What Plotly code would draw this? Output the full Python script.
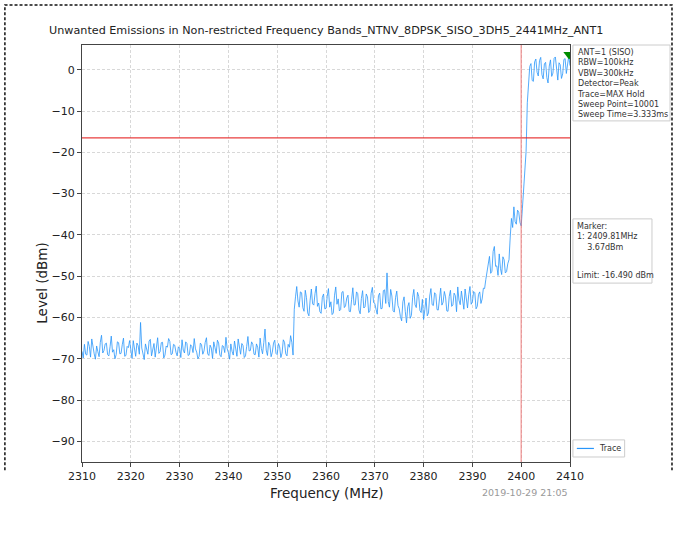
import numpy as np
import plotly.graph_objects as go

# ---------------- data ----------------
FREQ_START = 2310.0
FREQ_STOP = 2410.0
# Max-hold trace level (dBm), read every 0.25 MHz from 2310 to 2410 MHz (20 values per 5 MHz)
level_rows = [
    [-68.2, -69.8, -66.5, -68.9, -69.1, -65.8, -67.0, -69.6, -65.2, -67.7,
     -68.8, -70.1, -66.9, -68.3, -69.5, -66.0, -64.3, -68.6, -68.0, -66.4],
    [-66.2, -69.0, -69.3, -67.1, -64.5, -68.4, -67.8, -70.0, -69.0, -65.9,
     -66.1, -68.8, -68.7, -66.6, -65.0, -69.4, -69.2, -67.0, -67.3, -65.6],
    [-68.6, -69.9, -65.6, -67.5, -69.4, -66.2, -66.8, -68.9, -61.2, -67.4,
     -69.0, -70.2, -66.4, -68.1, -68.9, -65.7, -65.3, -69.3, -67.9, -66.3],
    [-69.6, -67.0, -64.9, -68.7, -68.3, -66.1, -66.0, -69.8, -69.1, -66.9,
     -67.2, -65.1, -65.8, -69.0, -68.8, -66.5, -66.7, -68.4, -69.3, -67.1],
    [-67.5, -69.7, -65.4, -67.9, -68.6, -65.9, -66.3, -69.2, -69.0, -66.6,
     -67.0, -68.5, -65.1, -67.6, -68.4, -70.0, -69.4, -66.2, -66.6, -68.9],
    [-68.1, -66.0, -64.9, -68.8, -69.2, -66.7, -67.4, -69.9, -65.9, -67.3,
     -68.7, -65.5, -66.2, -69.1, -69.5, -66.8, -67.0, -68.5, -64.8, -67.6],
    [-68.5, -70.1, -66.4, -68.2, -69.1, -65.7, -67.6, -69.4, -65.2, -67.8,
     -68.9, -66.3, -66.8, -69.7, -69.3, -67.0, -64.6, -68.1, -68.0, -65.9],
    [-66.5, -68.9, -69.0, -66.4, -67.2, -69.6, -65.0, -67.5, -68.8, -66.1,
     -62.8, -67.9, -69.2, -66.0, -66.7, -69.5, -68.4, -66.2, -65.5, -68.7],
    [-69.0, -66.3, -67.1, -69.7, -68.6, -65.4, -66.0, -68.8, -69.3, -66.5,
     -67.2, -64.4, -66.0, -69.1, -58.0, -55.0, -52.5, -56.0, -57.5, -53.8],
    [-54.0, -57.6, -58.5, -53.4, -55.2, -58.9, -59.6, -55.8, -53.1, -56.7,
     -57.0, -54.2, -52.4, -57.3, -56.5, -58.6, -59.0, -55.1, -54.3, -57.9],
    [-57.8, -54.9, -53.0, -57.5, -56.2, -59.3, -58.9, -54.6, -52.6, -56.8,
     -55.5, -58.4, -58.1, -53.9, -53.7, -57.6, -57.2, -55.3, -54.6, -58.5],
    [-58.6, -55.6, -52.8, -57.0, -56.9, -53.8, -54.2, -58.2, -59.1, -55.4,
     -53.5, -57.7, -57.4, -54.3, -55.0, -58.8, -58.3, -54.1, -52.7, -56.4],
    [-56.6, -58.0, -59.2, -54.7, -54.1, -57.9, -57.8, -53.5, -53.3, -56.6,
     -49.2, -56.1, -57.5, -53.2, -54.8, -58.4, -58.7, -55.2, -53.6, -57.1],
    [-57.9, -59.8, -60.8, -56.2, -55.0, -58.6, -61.3, -57.4, -56.4, -60.2,
     -59.5, -55.1, -53.2, -56.9, -57.6, -53.9, -54.9, -58.3, -58.8, -55.6],
    [-60.5, -58.1, -55.3, -59.6, -58.9, -54.8, -53.0, -56.9, -57.1, -54.0,
     -54.4, -58.1, -58.2, -55.5, -52.9, -57.0, -56.3, -53.7, -55.0, -58.4],
    [-58.5, -54.9, -53.4, -57.3, -57.0, -54.1, -54.7, -58.6, -52.6, -55.8,
     -56.9, -53.6, -55.8, -58.0, -53.1, -56.2, -57.7, -54.5, -52.5, -56.8],
    [-56.2, -53.7, -54.0, -57.9, -57.3, -54.4, -53.8, -56.6, -55.5, -52.9,
     -53.0, -50.8, -49.0, -46.4, -45.2, -49.3, -48.8, -44.0, -42.8, -47.6],
    [-47.5, -49.8, -44.6, -48.1, -49.6, -45.3, -46.0, -49.2, -48.9, -47.0,
     -46.0, -40.5, -36.0, -38.2, -33.2, -36.8, -37.4, -34.0, -34.5, -37.0],
    [-37.8, -33.5, -29.5, -26.0, -19.8, -8.0, -2.0, 0.8, 1.5, -2.6,
     -2.8, 1.9, 2.6, -0.6, -1.5, 2.2, 3.0, -1.2, -2.2, 1.4],
    [1.8, -1.9, -3.2, 0.9, 2.4, -1.6, -0.8, 2.8, 3.1, -0.4,
     -2.5, 1.7, 1.2, -2.1, -1.0, 2.5, 2.7, -0.9, 2.0, 3.4],
    [1.0],
]
level = [v for row in level_rows for v in row]
freq = np.linspace(FREQ_START, FREQ_STOP, len(level))

LIMIT_DBM = -16.49
BAND_EDGE_MHZ = 2400.0
MARKER_FREQ = 2409.81
MARKER_LEVEL = 3.67

x_ticks = [2310, 2320, 2330, 2340, 2350, 2360, 2370, 2380, 2390, 2400, 2410]
y_ticks = [0, -10, -20, -30, -40, -50, -60, -70, -80, -90]

TITLE = "Unwanted Emissions in Non-restricted Frequency Bands_NTNV_8DPSK_SISO_3DH5_2441MHz_ANT1"
INFO_LINES = ["ANT=1 (SISO)", "RBW=100kHz", "VBW=300kHz", "Detector=Peak",
              "Trace=MAX Hold", "Sweep Point=10001", "Sweep Time=3.333ms"]
DATE_TEXT = "2019-10-29 21:05"
LEGEND_LABEL = "Trace"

FONT = "DejaVu Sans"
TRACE_COLOR = "rgb(40,150,250)"

fig = go.Figure()

fig.add_trace(go.Scatter(
    x=freq, y=level, mode="lines", name=LEGEND_LABEL,
    line=dict(color=TRACE_COLOR, width=0.8), showlegend=False,
))
fig.add_trace(go.Scatter(
    x=[FREQ_START, FREQ_STOP], y=[LIMIT_DBM, LIMIT_DBM], mode="lines",
    line=dict(color="rgba(230,40,40,0.9)", width=1.2), showlegend=False, hoverinfo="skip",
))
fig.add_trace(go.Scatter(
    x=[BAND_EDGE_MHZ, BAND_EDGE_MHZ], y=[-95, 6], mode="lines",
    line=dict(color="rgba(240,110,110,0.6)", width=1.5), showlegend=False, hoverinfo="skip",
))
fig.add_trace(go.Scatter(
    x=[MARKER_FREQ], y=[MARKER_LEVEL], mode="markers",
    marker=dict(symbol="triangle-down", size=10, color="rgb(0,140,0)"),
    showlegend=False, hoverinfo="skip", cliponaxis=True,
))

axis_common = dict(
    showline=True, mirror=True, linecolor="#444", linewidth=1.2,
    ticks="outside", ticklen=4, tickcolor="#444",
    showgrid=True, gridcolor="#d8d8d8", gridwidth=0.8, griddash="3px,2px",
    zeroline=False, tickfont=dict(family=FONT, size=11, color="#222"),
)

fig.update_layout(
    width=675, height=538,
    margin=dict(l=82, r=105, t=45, b=76),
    paper_bgcolor="white", plot_bgcolor="white",
    font=dict(family=FONT, color="#222"),
    xaxis=dict(range=[FREQ_START, FREQ_STOP], tickvals=x_ticks, **axis_common),
    yaxis=dict(range=[-95, 6], tickvals=y_ticks,
               ticktext=[("\u2212" + str(-t)) if t < 0 else str(t) for t in y_ticks],
               **axis_common),
    showlegend=False,
)

# Title
fig.add_annotation(text=TITLE, xref="paper", yref="paper", x=0.5, y=1.0,
                   xanchor="center", yanchor="bottom", yshift=6, showarrow=False,
                   font=dict(family=FONT, size=11.2, color="#222"))
# Axis titles
fig.add_annotation(text="Frequency (MHz)", xref="paper", yref="paper", x=0.5, y=-0.074,
                   xanchor="center", yanchor="middle", showarrow=False,
                   font=dict(family=FONT, size=13.5, color="#222"))
fig.add_annotation(text="Level (dBm)", xref="paper", yref="paper", x=-0.082, y=0.43,
                   xanchor="center", yanchor="middle", textangle=-90, showarrow=False,
                   font=dict(family=FONT, size=13.5, color="#222"))
fig.add_annotation(text=DATE_TEXT, xref="paper", yref="paper", x=1.0, y=-0.074,
                   xanchor="right", yanchor="middle", showarrow=False,
                   font=dict(family=FONT, size=9.5, color="#999"))

# Info box
fig.add_shape(type="rect", xref="paper", yref="paper", x0=1.006, x1=1.205, y0=0.818, y1=1.0,
              line=dict(color="#cccccc", width=1), fillcolor="white", layer="above")
fig.add_annotation(text="<br>".join(INFO_LINES), xref="paper", yref="paper", x=1.010, y=0.998,
                   xanchor="left", yanchor="top", align="left", showarrow=False,
                   font=dict(family=FONT, size=8, color="#333"))

# Marker box
fig.add_shape(type="rect", xref="paper", yref="paper", x0=1.006, x1=1.168, y0=0.429, y1=0.583,
              line=dict(color="#cccccc", width=1), fillcolor="white", layer="above")
fig.add_annotation(text=f"Marker:<br>1: {MARKER_FREQ:.2f}MHz<br>    {MARKER_LEVEL:.2f}dBm",
                   xref="paper", yref="paper", x=1.010, y=0.581,
                   xanchor="left", yanchor="top", align="left", showarrow=False,
                   font=dict(family=FONT, size=8, color="#333"))
fig.add_annotation(text=f"Limit: {LIMIT_DBM:.3f} dBm",
                   xref="paper", yref="paper", x=1.010, y=0.448,
                   xanchor="left", yanchor="middle", align="left", showarrow=False,
                   font=dict(family=FONT, size=8, color="#333"))

# Legend box (compact, like the reference)
fig.add_shape(type="rect", xref="paper", yref="paper", x0=1.006, x1=1.112, y0=0.012, y1=0.053,
              line=dict(color="#cccccc", width=1), fillcolor="white", layer="above")
fig.add_shape(type="line", xref="paper", yref="paper", x0=1.014, x1=1.049, y0=0.0325, y1=0.0325,
              line=dict(color=TRACE_COLOR, width=1.2), layer="above")
fig.add_annotation(text=LEGEND_LABEL, xref="paper", yref="paper", x=1.056, y=0.0325,
                   xanchor="left", yanchor="middle", showarrow=False,
                   font=dict(family=FONT, size=8, color="#333"))

# Dashed outer border (top, left, right)
fig.add_shape(type="path", xref="paper", yref="paper",
              path="M -0.158,-0.02 L -0.158,1.096 L 1.209,1.096 L 1.209,-0.02",
              line=dict(color="#111", width=1.5, dash="3px,2px"))

fig.write_html("out.html", config={"displayModeBar": False},
               post_script="document.body.style.margin='0';")
